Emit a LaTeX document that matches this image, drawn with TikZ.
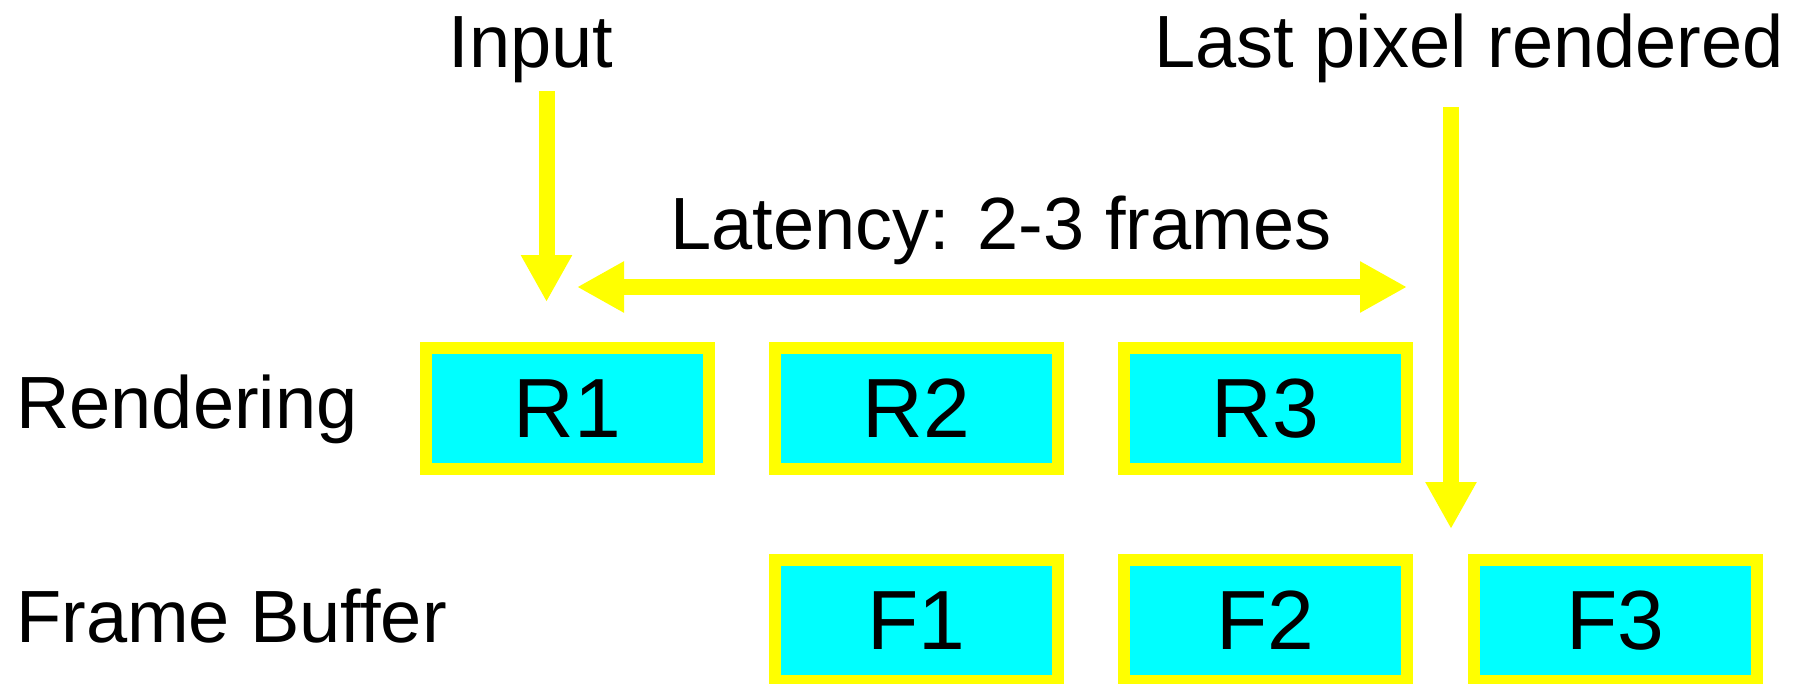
\documentclass[tikz,border=0pt]{standalone}
\usepackage{fontspec}
\setmainfont{Liberation Sans}
\usetikzlibrary{arrows.meta}
\definecolor{ylw}{RGB}{255,255,0}
\definecolor{cyn}{RGB}{0,255,255}
\begin{document}
\begin{tikzpicture}[x=1pt,y=-1pt,
  lbl/.style={inner sep=0pt, font=\fontsize{74}{80}\selectfont},
  boxnode/.style={draw=ylw, fill=cyn, line width=12pt, minimum width=283pt,
    minimum height=121pt, inner sep=0pt, font=\fontsize{84}{90}\selectfont},
  arr/.style={draw=ylw, line width=16pt, -{Triangle[length=47pt,width=48pt]}},
  dblarr/.style={draw=ylw, line width=16pt, {Triangle[length=47pt,width=48pt]}-{Triangle[length=47pt,width=48pt]}}]
\useasboundingbox (0,0) rectangle (1798,683);
% labels
\node[lbl, anchor=base] (input) at (531,67) {Input};
\node[lbl, anchor=base] (lastpix) at (1469,67) {Last pixel rendered};
\node[lbl, anchor=base] (latency) at (1001,249) {Latency: 2-3 frames};
\node[lbl, anchor=base west] (rendering) at (16,428) {Rendering};
\node[lbl, anchor=base west] (fbuf) at (16,642) {Frame Buffer};
% boxes
\node[boxnode] (r1) at (567.5,408.5) {R1};
\node[boxnode] (r2) at (916.5,408.5) {R2};
\node[boxnode] (r3) at (1265.5,408.5) {R3};
\node[boxnode] (f1) at (916.5,620.5) {F1};
\node[boxnode] (f2) at (1265.5,620.5) {F2};
\node[boxnode] (f3) at (1615,620.5) {F3};
% arrows
\coordinate (inTop) at (546.5,91);
\coordinate (inTip) at (546.5,302);
\coordinate (lpTop) at (1451,107);
\coordinate (lpTip) at (1451,529);
\coordinate (latL) at (577,287);
\coordinate (latR) at (1407,287);
\draw[arr] (inTop) -- (inTip);
\draw[arr] (lpTop) -- (lpTip);
\draw[dblarr] (latL) -- (latR);
\end{tikzpicture}
\end{document}
